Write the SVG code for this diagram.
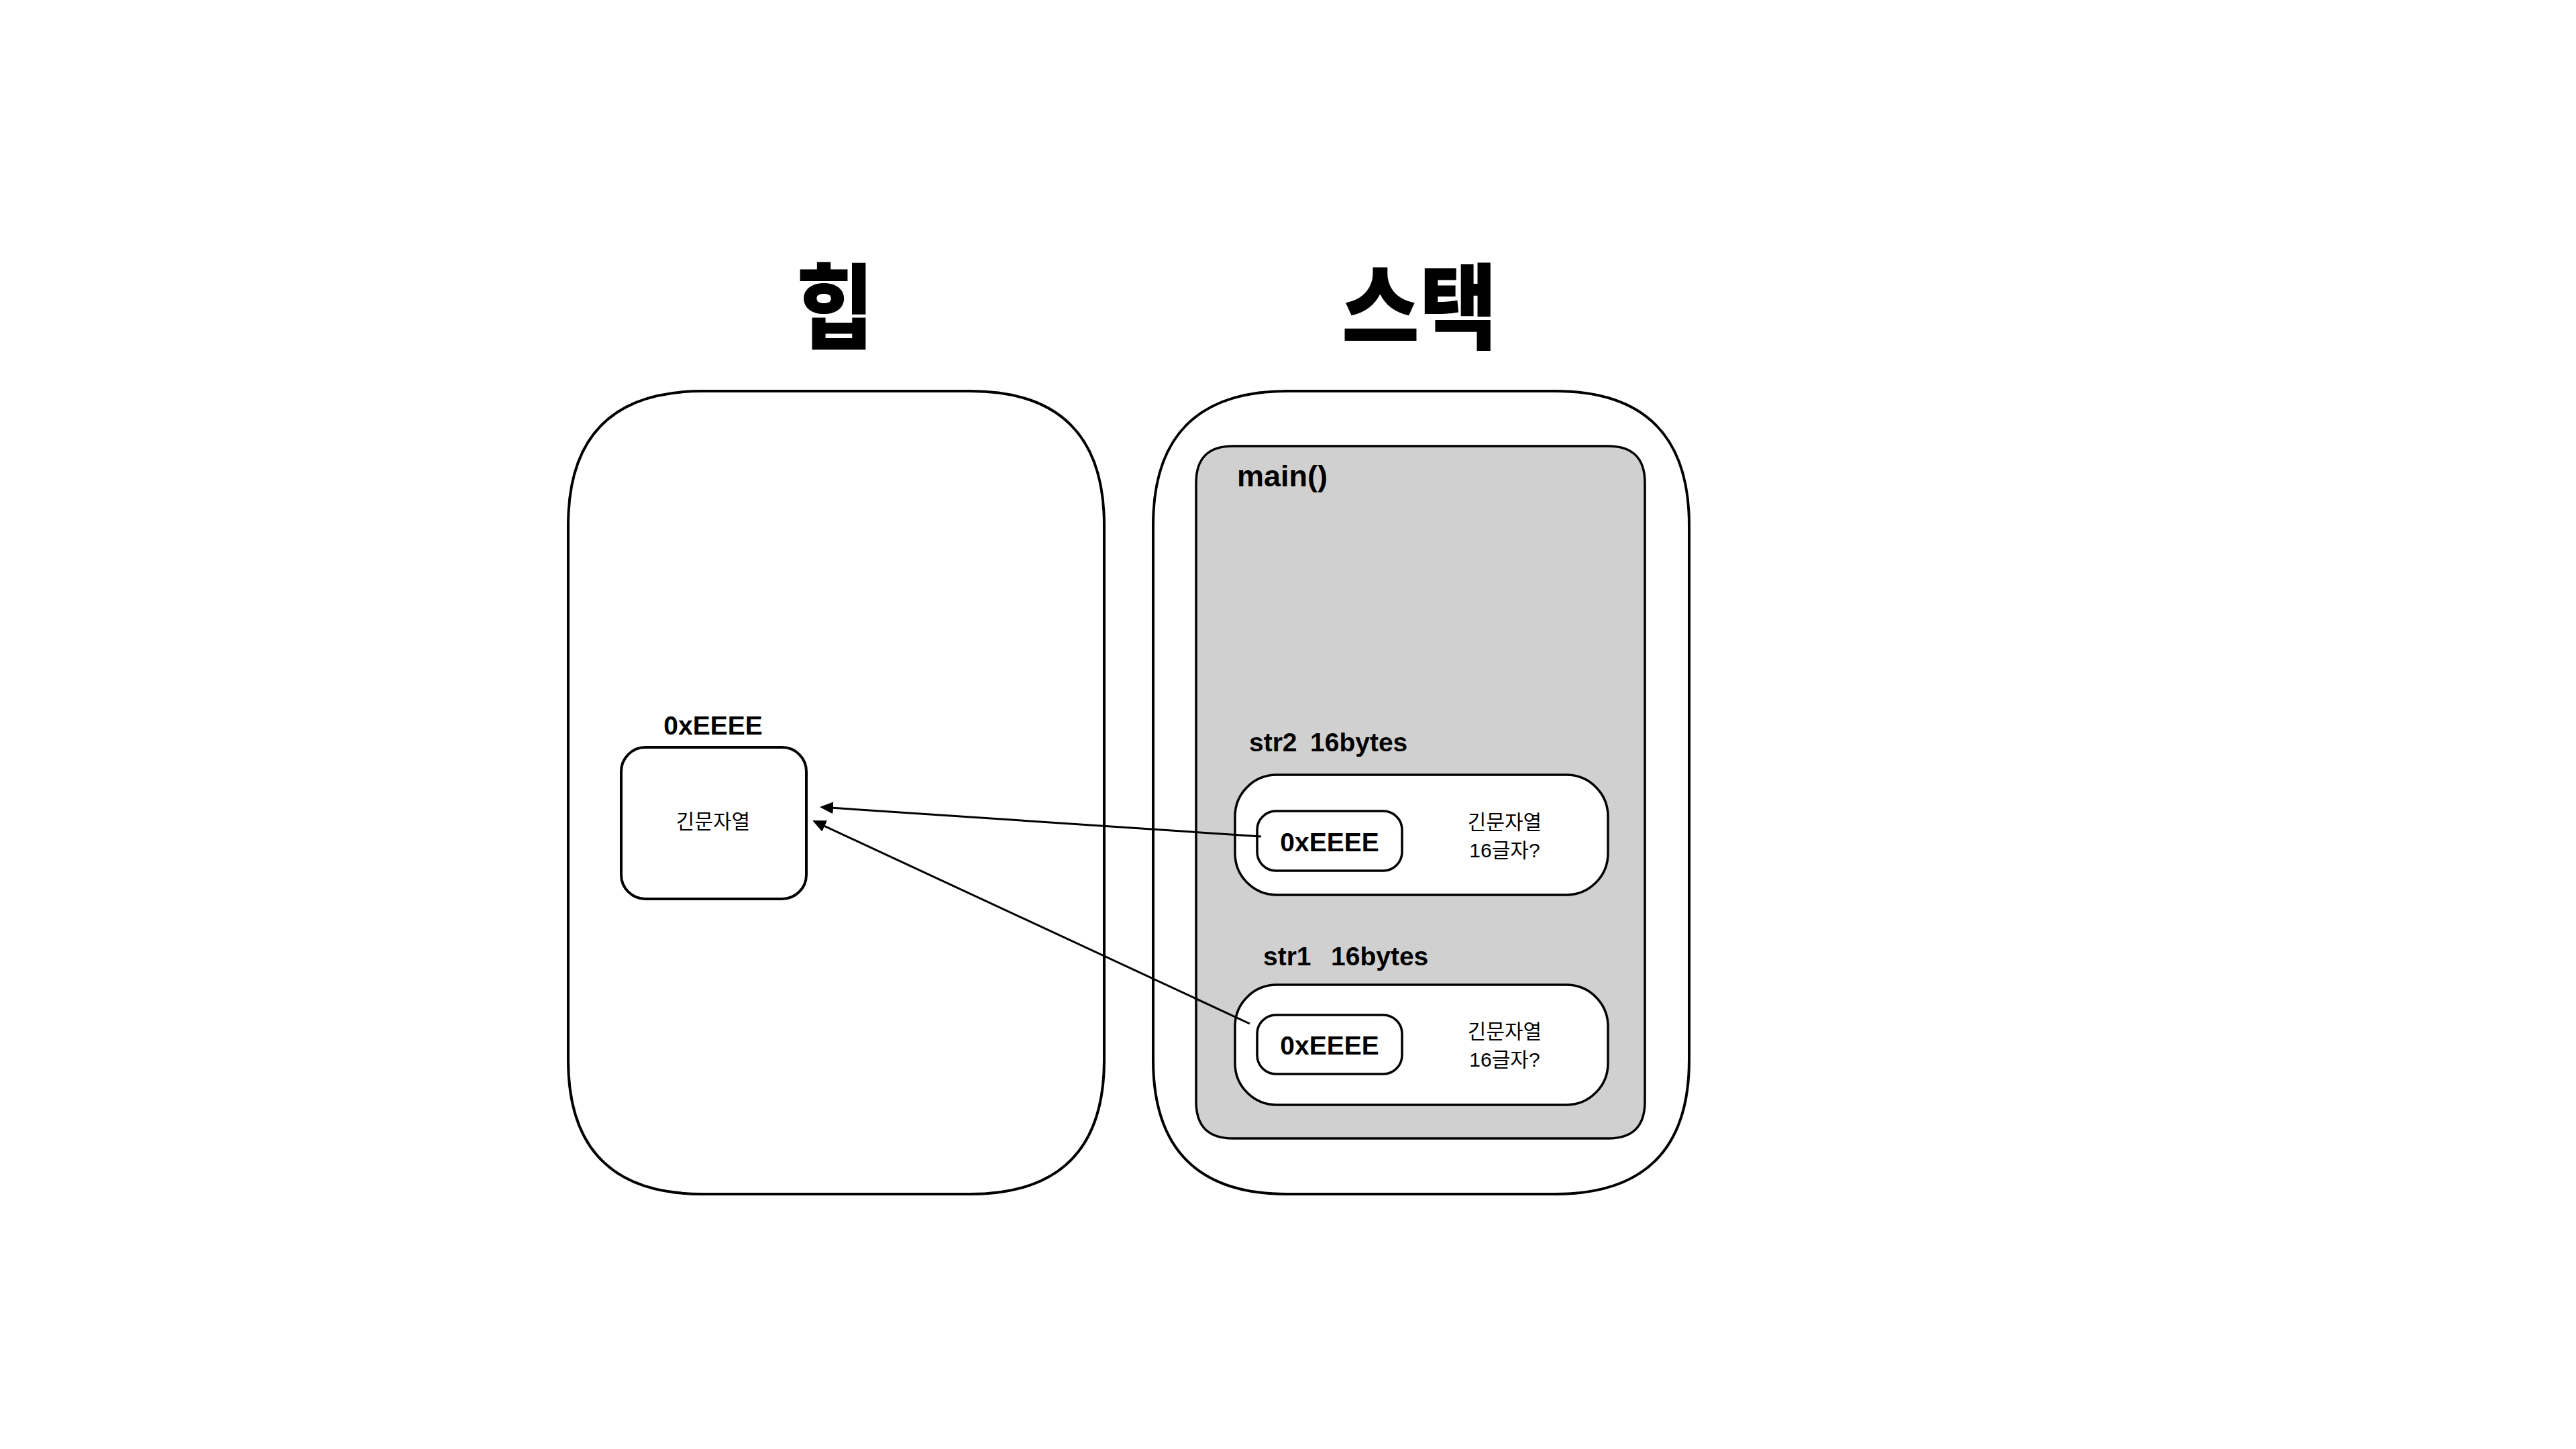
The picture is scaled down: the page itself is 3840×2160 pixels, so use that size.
<svg xmlns="http://www.w3.org/2000/svg" width="3840" height="2160" viewBox="0 0 3840 2160">
  <style>
    .title { font-family: "Noto Sans CJK KR", sans-serif; font-weight: 900; font-size: 126px; fill: #000; text-anchor: middle; }
    .lbl { font-family: "Liberation Sans", "Noto Sans CJK KR", sans-serif; font-weight: 700; fill: #000; }
    .kr { font-family: "Liberation Sans", "Noto Sans CJK KR", sans-serif; font-weight: 400; font-size: 30px; fill: #000; text-anchor: middle; }
    .box { fill: #fff; stroke: #000; stroke-width: 4; }
    .sbox { fill: #fff; stroke: #000; stroke-width: 3.5; }
    .conn { fill: none; stroke: #000; stroke-width: 3; }
  </style>
  <defs>
    <marker id="arrow" markerUnits="userSpaceOnUse" markerWidth="20" markerHeight="18" refX="8" refY="9" orient="auto">
      <path d="M0,0 L20,9 L0,18 Z" fill="#000"/>
    </marker>
  </defs>
  <rect width="3840" height="2160" fill="#fff"/>

  <g id="title-heap">
    <text class="title" transform="translate(1245,509) scale(1,1.1)">힙</text>
  </g>
  <g id="title-stack">
    <text class="title" transform="translate(2116,509) scale(1,1.1)">스택</text>
  </g>

  <g id="heap">
    <path class="box" d="M847,783 C847,650 914,583 1047,583 L1446,583 C1579,583 1646,650 1646,783 L1646,1580 C1646,1713 1579,1780 1446,1780 L1047,1780 C914,1780 847,1713 847,1580 Z"/>
  </g>

  <g id="heap-string">
    <text class="lbl" x="1063" y="1095" font-size="39" text-anchor="middle">0xEEEE</text>
    <rect class="box" x="926" y="1114" width="276" height="226" rx="36" ry="36"/>
    <text class="kr" x="1063" y="1235">긴문자열</text>
  </g>

  <g id="stack">
    <path class="box" d="M1719,783 C1719,650 1786,583 1919,583 L2318,583 C2451,583 2518,650 2518,783 L2518,1580 C2518,1713 2451,1780 2318,1780 L1919,1780 C1786,1780 1719,1713 1719,1580 Z"/>
  </g>

  <g id="main-frame">
    <path d="M1783,720 C1783,683 1801,665 1838,665 L2397,665 C2434,665 2452,683 2452,720 L2452,1642 C2452,1679 2434,1697 2397,1697 L1838,1697 C1801,1697 1783,1679 1783,1642 Z" fill="#d0d0d0" stroke="#000" stroke-width="3.5"/>
    <text class="lbl" x="1844" y="725" font-size="45">main()</text>
  </g>

  <g id="str2">
    <text class="lbl" x="1862" y="1120" font-size="39">str2<tspan x="1953">16bytes</tspan></text>
    <rect class="sbox" x="1841" y="1155" width="556" height="179" rx="62" ry="62"/>
    <rect class="sbox" x="1874" y="1209" width="216" height="89" rx="28" ry="28"/>
    <text class="lbl" x="1982" y="1269" font-size="39" text-anchor="middle">0xEEEE</text>
    <text class="kr" x="2243" y="1236">긴문자열</text>
    <text class="kr" x="2243" y="1278">16글자?</text>
  </g>

  <g id="str1">
    <text class="lbl" x="1883" y="1439" font-size="39">str1<tspan x="1984">16bytes</tspan></text>
    <rect class="sbox" x="1841" y="1468" width="556" height="179" rx="62" ry="62"/>
    <rect class="sbox" x="1874" y="1513" width="216" height="88" rx="28" ry="28"/>
    <text class="lbl" x="1982" y="1572" font-size="39" text-anchor="middle">0xEEEE</text>
    <text class="kr" x="2243" y="1548">긴문자열</text>
    <text class="kr" x="2243" y="1590">16글자?</text>
  </g>

  <g id="connectors">
    <line class="conn" x1="1880" y1="1247" x2="1234" y2="1203.8" marker-end="url(#arrow)"/>
    <line class="conn" x1="1863" y1="1526" x2="1222" y2="1228.1" marker-end="url(#arrow)"/>
  </g>
</svg>
